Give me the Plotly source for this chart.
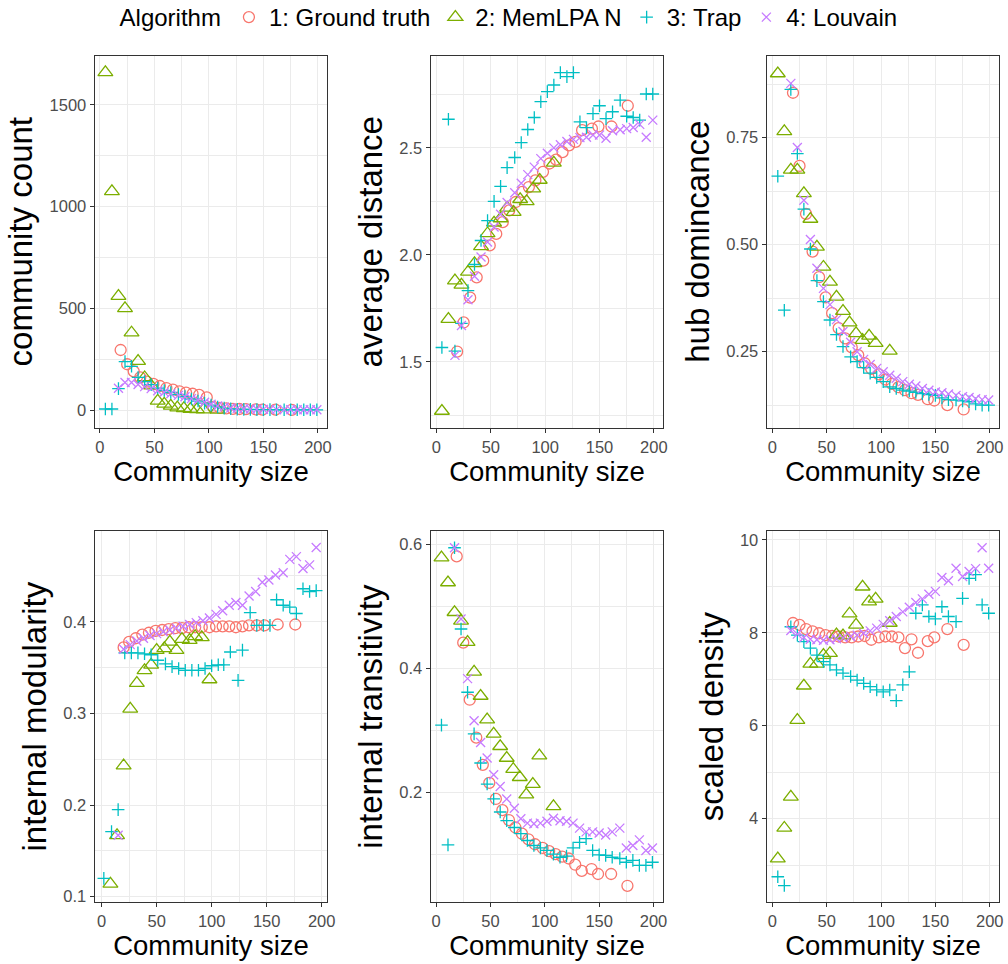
import plotly.graph_objects as go

# ---------------- data ----------------
algorithms = ["1: Ground truth", "2: MemLPA N", "3: Trap", "4: Louvain"]

size_gt = [19, 25, 31, 37, 43, 49, 55, 61, 67, 73, 79, 85, 91, 98, 104, 110, 116, 122, 128, 134, 143, 149, 161, 176]
size_memlpa = [5, 11, 17, 23, 29, 35, 41, 47, 53, 59, 65, 71, 77, 83, 89, 95, 108]
size_trap = [5, 11, 17, 23, 29, 35, 41, 47, 53, 59, 65, 72, 78, 84, 90, 96, 102, 108, 114, 120, 126, 132, 138,
             144, 150, 156, 162, 169, 175, 181, 187, 193, 199]
size_louvain = [17, 23, 29, 35, 41, 47, 53, 59, 65, 72, 78, 84, 90, 96, 102, 108, 114, 120, 126, 132, 138,
                144, 150, 156, 162, 169, 175, 181, 187, 193, 199]

# internal-modularity panel uses slightly different size positions
mod_size_gt = [20, 25, 31, 37, 43, 49, 55, 61, 67, 73, 79, 85, 91, 98, 104, 110, 116, 122, 128, 134, 141, 148, 160, 176]
mod_size_memlpa = [8, 14, 20, 26, 32, 39, 45, 50, 57, 62, 68, 73, 80, 85, 91, 98]
mod_size_trap = [2, 9, 15, 21, 27, 33, 39, 45, 51, 58, 64, 70, 76, 82, 88, 94, 100, 106, 111, 117, 124, 128, 135,
                 141, 147, 153, 159, 165, 171, 177, 183, 189, 195]
mod_size_louvain = [15, 20, 26, 32, 38, 44, 50, 56, 62, 68, 74, 80, 86, 92, 98, 104, 110, 116, 122, 128, 134, 140,
                    146, 152, 158, 165, 171, 177, 183, 189, 195]

count_gt = [295, 225, 190, 160, 140, 128, 118, 108, 100, 92, 85, 80, 74, 62, 15, 10, 8, 6, 5, 4, 3, 2, 2, 1]
count_memlpa = [1660, 1075, 560, 500, 380, 240, 160, 120, 45, 30, 20, 12, 8, 5, 3, 2, 1]
count_trap = [5, 5, 105, 238, 215, 160, 140, 125, 108, 96, 86, 76, 66, 54, 44, 34, 24, 15, 9, 6, 4, 3, 3, 2, 2, 2,
              1, 1, 1, 1, 1, 1, 1]
count_louvain = [107, 135, 135, 125, 115, 105, 95, 88, 80, 72, 65, 56, 48, 38, 28, 20, 14, 10, 8, 6, 5, 4, 3, 3, 2,
                 2, 2, 1, 1, 1, 1]

dist_gt = [1.548, 1.684, 1.80, 1.895, 1.973, 2.044, 2.098, 2.153, 2.208, 2.247, 2.294, 2.317, 2.348, 2.388, 2.427,
           2.445, 2.48, 2.512, 2.528, 2.583, 2.59, 2.60, 2.60, 2.697]
dist_memlpa = [1.27, 1.70, 1.88, 1.86, 1.92, 1.96, 2.04, 2.10, 2.15, 2.17, 2.22, 2.20, 2.26, 2.25, 2.31, 2.35, 2.43]
dist_trap = [1.567, 2.634, 1.55, 1.68, 1.833, 1.955, 2.067, 2.16, 2.25, 2.32, 2.408, 2.455, 2.525, 2.586, 2.642,
             2.716, 2.763, 2.794, 2.852, 2.833, 2.852, 2.622, 2.595, 2.66, 2.697, 2.637, 2.669, 2.723, 2.648, 2.642,
             2.63, 2.752, 2.752]
dist_louvain = [1.53, 1.67, 1.79, 1.90, 1.99, 2.06, 2.13, 2.19, 2.245, 2.29, 2.335, 2.375, 2.41, 2.45, 2.475, 2.50,
                2.515, 2.53, 2.54, 2.548, 2.55, 2.56, 2.56, 2.545, 2.58, 2.585, 2.59, 2.595, 2.61, 2.55, 2.63]

hub_gt = [0.855, 0.684, 0.572, 0.484, 0.424, 0.377, 0.34, 0.305, 0.281, 0.26, 0.242, 0.223, 0.21, 0.197, 0.185,
          0.175, 0.167, 0.16, 0.153, 0.149, 0.139, 0.136, 0.125, 0.115]
hub_memlpa = [0.90, 0.765, 0.675, 0.675, 0.62, 0.56, 0.495, 0.448, 0.413, 0.378, 0.345, 0.318, 0.293, 0.277, 0.287,
              0.27, 0.252]
hub_trap = [0.66, 0.347, 0.863, 0.713, 0.583, 0.49, 0.416, 0.367, 0.324, 0.29, 0.262, 0.238, 0.227, 0.213, 0.2,
            0.19, 0.18, 0.168, 0.164, 0.16, 0.158, 0.155, 0.152, 0.15, 0.148, 0.142, 0.138, 0.137, 0.135, 0.133,
            0.128, 0.125, 0.125]
hub_louvain = [0.877, 0.727, 0.604, 0.512, 0.445, 0.398, 0.36, 0.325, 0.297, 0.272, 0.25, 0.232, 0.22, 0.211, 0.203,
               0.195, 0.188, 0.18, 0.174, 0.17, 0.164, 0.16, 0.156, 0.154, 0.151, 0.148, 0.145, 0.143, 0.14, 0.138,
               0.137]

mod_gt = [0.372, 0.378, 0.382, 0.386, 0.388, 0.39, 0.391, 0.392, 0.393, 0.393, 0.394, 0.394, 0.394, 0.394, 0.395,
          0.395, 0.395, 0.394, 0.395, 0.396, 0.396, 0.396, 0.397, 0.397]
mod_memlpa = [0.114, 0.167, 0.243, 0.305, 0.333, 0.347, 0.353, 0.369, 0.371, 0.378, 0.369, 0.381, 0.38, 0.384, 0.383,
              0.337]
mod_trap = [0.12, 0.171, 0.195, 0.366, 0.366, 0.366, 0.365, 0.364, 0.358, 0.354, 0.351, 0.349, 0.347, 0.347, 0.347,
            0.349, 0.352, 0.353, 0.353, 0.367, 0.336, 0.369, 0.41, 0.396, 0.396, 0.396, 0.424, 0.418, 0.416, 0.409,
            0.436, 0.433, 0.434]
mod_louvain = [0.167, 0.370, 0.375, 0.379, 0.382, 0.385, 0.387, 0.389, 0.391, 0.393, 0.395, 0.397, 0.399, 0.401,
               0.404, 0.408, 0.412, 0.418, 0.421, 0.418, 0.428, 0.433, 0.443, 0.4455, 0.451, 0.4535, 0.468, 0.471,
               0.458, 0.462, 0.481]

trans_gt = [0.58, 0.441, 0.349, 0.288, 0.244, 0.215, 0.189, 0.171, 0.155, 0.143, 0.133, 0.124, 0.116, 0.11, 0.105,
            0.1, 0.096, 0.093, 0.083, 0.073, 0.076, 0.068, 0.068, 0.049]
trans_memlpa = [0.578, 0.538, 0.49, 0.476, 0.442, 0.394, 0.355, 0.317, 0.294, 0.274, 0.255, 0.237, 0.224, 0.196,
                0.213, 0.259, 0.177]
trans_trap = [0.308, 0.115, 0.594, 0.463, 0.361, 0.294, 0.247, 0.213, 0.189, 0.168, 0.154, 0.143, 0.133, 0.122,
              0.114, 0.11, 0.106, 0.1, 0.095, 0.097, 0.11, 0.119, 0.125, 0.106, 0.099, 0.098, 0.095, 0.093, 0.087,
              0.09, 0.082, 0.082, 0.087]
trans_louvain = [0.594, 0.479, 0.383, 0.315, 0.28, 0.255, 0.228, 0.209, 0.189, 0.174, 0.157, 0.15, 0.149, 0.15,
                 0.153, 0.158, 0.154, 0.153, 0.15, 0.142, 0.136, 0.136, 0.134, 0.131, 0.136, 0.142, 0.11, 0.114,
                 0.123, 0.106, 0.11]

dens_gt = [8.21, 8.17, 8.08, 8.03, 7.99, 7.95, 7.93, 7.92, 7.9, 7.9, 7.92, 7.93, 7.85, 7.9, 7.92, 7.92, 7.9, 7.67,
           7.86, 7.57, 7.82, 7.9, 8.08, 7.74]
dens_memlpa = [3.14, 3.80, 4.47, 6.12, 6.86, 7.33, 7.33, 7.52, 7.56, 7.96, 7.94, 8.41, 8.17, 8.99, 8.67, 8.73, 8.21]
dens_trap = [2.75, 2.56, 8.13, 7.95, 7.81, 7.67, 7.52, 7.38, 7.31, 7.2, 7.13, 7.06, 6.98, 6.91, 6.84, 6.77, 6.73,
             6.77, 6.54, 6.88, 7.16, 8.42, 8.6, 8.35, 8.3, 8.56, 8.35, 8.24, 8.74, 9.17, 9.25, 8.6, 8.42]
dens_louvain = [8.05, 7.97, 7.9, 7.86, 7.85, 7.84, 7.85, 7.87, 7.89, 7.92, 7.95, 7.99, 8.04, 8.1, 8.18, 8.26, 8.35,
                8.45, 8.55, 8.65, 8.73, 8.83, 8.89, 9.19, 9.12, 9.39, 9.21, 9.32, 9.38, 9.83, 9.39]

y_titles = ["community count", "average distance", "hub domincance",
            "internal modularity", "internal transitivity", "scaled density"]

# ---------------- styling ----------------
W, H = 1008, 964
FONT = "Liberation Sans, Arial, Helvetica, sans-serif"
colors = ["#F8766D", "#7CAE00", "#00BFC4", "#C77CFF"]
symbols = ["circle-open", "triangle-up-open", "cross-thin-open", "x-thin-open"]
msizes = [11, 13, 9, 9]

std_sizes = [size_gt, size_memlpa, size_trap, size_louvain]
mod_sizes = [mod_size_gt, mod_size_memlpa, mod_size_trap, mod_size_louvain]

panels = [
    dict(xs=std_sizes, ys=[count_gt, count_memlpa, count_trap, count_louvain],
         yr=[-87, 1742], dt=500, fmt=None, xr=[-4.8, 208.6]),
    dict(xs=std_sizes, ys=[dist_gt, dist_memlpa, dist_trap, dist_louvain],
         yr=[1.192, 2.931], dt=0.5, fmt=".1f", xr=[-5.3, 208.6]),
    dict(xs=std_sizes, ys=[hub_gt, hub_memlpa, hub_trap, hub_louvain],
         yr=[0.0724, 0.9416], dt=0.25, fmt=".2f", xr=[-5.2, 208.8]),
    dict(xs=mod_sizes, ys=[mod_gt, mod_memlpa, mod_trap, mod_louvain],
         yr=[0.0939, 0.499], dt=0.1, fmt=".1f", xr=[-6.3, 205.1]),
    dict(xs=std_sizes, ys=[trans_gt, trans_memlpa, trans_trap, trans_louvain],
         yr=[0.0224, 0.621], dt=0.2, fmt=".1f", xr=[-4.9, 208.9]),
    dict(xs=std_sizes, ys=[dens_gt, dens_memlpa, dens_trap, dens_louvain],
         yr=[2.2, 10.19], dt=2, fmt=None, xr=[-5.2, 208.8]),
]

col_px = [(94.7, 327.3), (430.7, 663.2), (766.7, 999.3)]
row_px = [(55.7, 427.7), (531.0, 902.3)]

fig = go.Figure()
layout = {}
for i, p in enumerate(panels):
    n = i + 1
    r, c = divmod(i, 3)
    x0, x1 = col_px[c]
    y0, y1 = row_px[r]
    xd = [x0 / W, x1 / W]
    yd = [1 - y1 / H, 1 - y0 / H]
    xa = "x" if n == 1 else f"x{n}"
    ya = "y" if n == 1 else f"y{n}"
    for k in range(4):
        fig.add_trace(go.Scatter(
            x=p["xs"][k], y=p["ys"][k], mode="markers", xaxis=xa, yaxis=ya,
            name=algorithms[k], legendgroup=algorithms[k], showlegend=(n == 1),
            marker=dict(symbol=symbols[k], size=msizes[k], color=colors[k],
                        line=dict(width=1.3, color=colors[k])),
            hoverinfo="skip"))
    common = dict(showgrid=True, gridcolor="#EBEBEB", gridwidth=1.4, zeroline=False,
                  showline=True, mirror=True, linecolor="#333333", linewidth=1.3,
                  ticks="outside", ticklen=4, tickwidth=1.1, tickcolor="#333333",
                  tickfont=dict(size=16.5, color="#4D4D4D", family=FONT))
    layout["xaxis" if n == 1 else f"xaxis{n}"] = dict(
        common, domain=xd, range=p["xr"], anchor=ya, tick0=0, dtick=50,
        minor=dict(dtick=25, showgrid=True, gridcolor="#EBEBEB", gridwidth=0.7, ticks=""),
        title=dict(text="Community size", font=dict(size=27.5, color="black", family=FONT), standoff=3))
    ya_cfg = dict(
        common, domain=yd, range=p["yr"], anchor=xa, tick0=0, dtick=p["dt"],
        minor=dict(dtick=p["dt"] / 2, showgrid=True, gridcolor="#EBEBEB", gridwidth=0.7, ticks=""),
        title=dict(text=y_titles[i], font=dict(size=33, color="black", family=FONT), standoff=6))
    if p["fmt"]:
        ya_cfg["tickformat"] = p["fmt"]
    layout["yaxis" if n == 1 else f"yaxis{n}"] = ya_cfg

fig.update_layout(
    width=W, height=H, margin=dict(l=0, r=0, t=0, b=0, autoexpand=False),
    paper_bgcolor="white", plot_bgcolor="white",
    font=dict(family=FONT, color="black"),
    legend=dict(orientation="h", x=0.506, xanchor="center", y=1 + 5 / H, yanchor="top",
                title=dict(text="Algorithm", side="left", font=dict(size=24, family=FONT)),
                font=dict(size=24, family=FONT, color="black"), bgcolor="rgba(0,0,0,0)",
                itemsizing="trace"),
    **layout)

fig.write_html("out.html")
